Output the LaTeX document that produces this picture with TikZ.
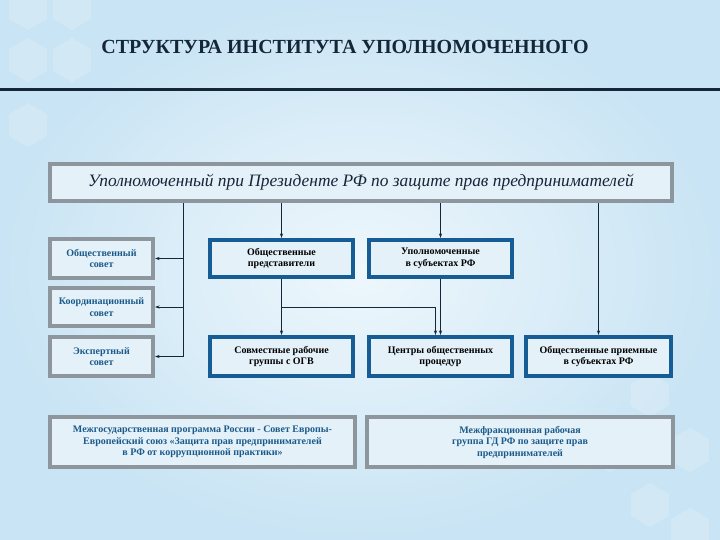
\documentclass[tikz,border=0pt]{standalone}
\usepackage{fontspec}
\setmainfont{Liberation Serif}
\usetikzlibrary{arrows.meta,calc}

\definecolor{bgout}{HTML}{C9E4F4}
\definecolor{bgin}{HTML}{EEF7FC}
\definecolor{boxgray}{HTML}{8E969D}
\definecolor{boxblue}{HTML}{165D96}
\definecolor{boxfill}{HTML}{E4F1F9}
\definecolor{textblue}{HTML}{1B5A8A}
\definecolor{darkcol}{HTML}{152638}

\begin{document}
\begin{tikzpicture}[
  x=1pt, y=-1pt,
  >={Stealth[length=4.5pt,width=3pt]},
  every node/.style={font=\bfseries\fontsize{10}{11.5}\selectfont, align=center, inner sep=1pt},
  graybox/.style={draw=boxgray, line width=4pt, fill=boxfill, text=textblue},
  bluebox/.style={draw=boxblue, line width=4pt, fill=boxfill, text=black, minimum width=143pt},
  mainbox/.style={draw=boxgray, line width=4pt, fill=boxfill, text=darkcol, minimum width=622pt, minimum height=37pt, font=\itshape\fontsize{17.4}{19}\selectfont},
  link/.style={draw=darkcol, line width=0.8pt},
  hexa/.style={fill=white, opacity=0.18}
]
\useasboundingbox (0,0) rectangle (720,540);
\shade[inner color=bgin, outer color=bgout] (0,0) rectangle (720,540);
% faint hexagons
\foreach \cx/\cy in {28/8, 72/8, 28/60, 72/60, 28/125, 650/395, 610/450, 690/450, 650/505, 690/530}
  \fill[hexa] (\cx,\cy) +(90:22) -- +(150:22) -- +(210:22) -- +(270:22) -- +(330:22) -- +(30:22) -- cycle;

\node[font=\bfseries\fontsize{20}{22}\selectfont, text=darkcol] (title) at (345,47) {СТРУКТУРА ИНСТИТУТА УПОЛНОМОЧЕННОГО};
\draw[line width=3pt, darkcol] (0,89.5) -- (720,89.5);

\node[mainbox] (upolnom) at (361,182.5) {Уполномоченный при Президенте РФ по защите прав предпринимателей};

\node[graybox, minimum width=103pt, minimum height=39pt] (obsovet) at (101.5,258.5) {Общественный\\совет};
\node[graybox, minimum width=103pt, minimum height=38pt] (koord) at (101.5,307) {Координационный\\совет};
\node[graybox, minimum width=103pt, minimum height=39pt] (ekspert) at (101.5,356.5) {Экспертный\\совет};

\node[bluebox, minimum height=37pt] (obpred) at (281.5,258.5) {Общественные\\представители};
\node[bluebox, minimum height=37pt] (upolsub) at (440.5,258.5) {Уполномоченные\\в субъектах РФ};
\node[bluebox, minimum height=39pt] (sovm) at (281.5,356.5) {Совместные рабочие\\группы с ОГВ};
\node[bluebox, minimum height=39pt] (centry) at (440.5,356.5) {Центры общественных\\процедур};
\node[bluebox, minimum height=39pt, minimum width=145pt] (priem) at (598.5,356.5) {Общественные приемные\\в субъектах РФ};

\node[graybox, minimum width=305pt, minimum height=50pt] (mezhgos) at (202.5,442) {Межгосударственная программа России - Совет Европы-\\Европейский союз «Защита прав предпринимателей\\в РФ от коррупционной практики»};
\node[graybox, minimum width=306pt, minimum height=50pt] (mezhfr) at (520,442) {Межфракционная рабочая\\группа ГД РФ по защите прав\\предпринимателей};

% connectors
\coordinate (spine) at (183,0);
\draw[link] (upolnom.south -| spine) -- (ekspert.east -| spine);
\draw[link,->] (obsovet.east -| spine) -- (obsovet.east);
\draw[link,->] (koord.east -| spine) -- (koord.east);
\draw[link,->] (ekspert.east -| spine) -- (ekspert.east);
\draw[link,->] (upolnom.south -| obpred.north) -- (obpred.north);
\draw[link,->] (obpred) -- (sovm);
\draw[link,->] ($(obpred.south)!.5!(sovm.north)$) -| ([xshift=-5pt]centry.north);
\draw[link,->] (upolnom.south -| upolsub.north) -- (upolsub.north);
\draw[link,->] (upolsub) -- (centry);
\draw[link,->] (upolnom.south -| priem.north) -- (priem.north);
\end{tikzpicture}
\end{document}
